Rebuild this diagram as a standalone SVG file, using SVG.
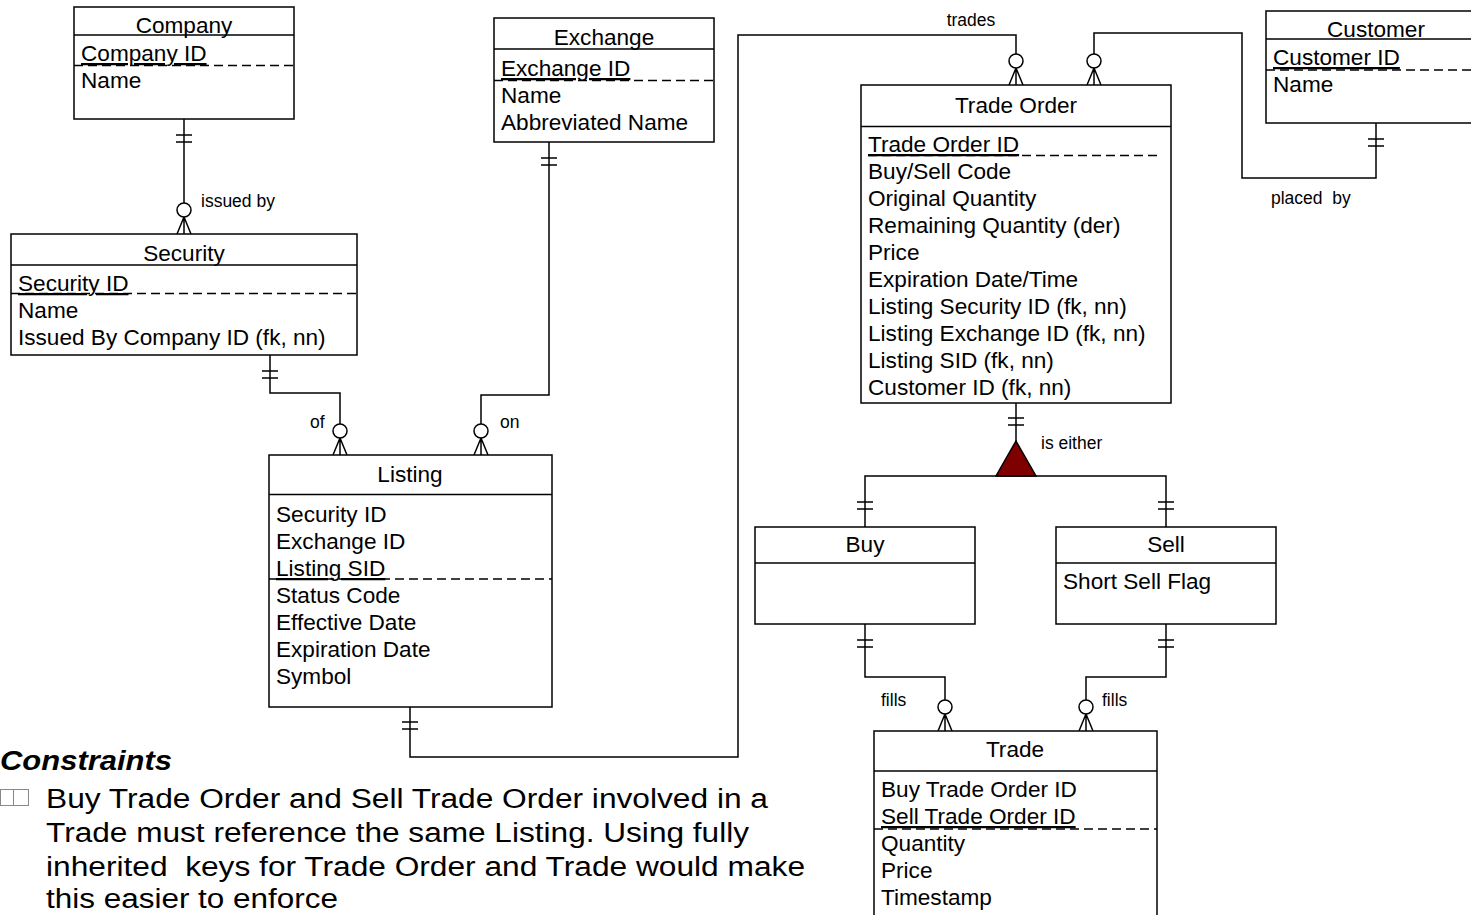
<svg xmlns="http://www.w3.org/2000/svg" xmlns:xlink="http://www.w3.org/1999/xlink" width="1471" height="915" viewBox="0 0 1471 915">
<style>
.box{fill:#fff;stroke:#000;stroke-width:1.5}
.ln{fill:none;stroke:#000;stroke-width:1.5}
.dash{fill:none;stroke:#000;stroke-width:1.5;stroke-dasharray:9 5}
.t{font-family:"Liberation Sans",Arial,sans-serif;font-size:22.6px;fill:#000}
.c{text-anchor:middle}
.k{text-decoration:underline}
.lbl{font-family:"Liberation Sans",Arial,sans-serif;font-size:17.5px;fill:#000}
.note{font-family:"Liberation Sans",Arial,sans-serif;font-size:27px;fill:#000}
</style>
<defs>
<g id="crow"><circle cx="0" cy="-24" r="7" fill="#fff" stroke="#000" stroke-width="1.5"/><path d="M0,-17 L-7,0 M0,-17 L0,0 M0,-17 L7,0" fill="none" stroke="#000" stroke-width="1.5"/></g>
<path id="barsB" d="M-8,16 H8 M-8,23 H8" fill="none" stroke="#000" stroke-width="1.5"/>
<path id="barsT" d="M-8,-25 H8 M-8,-18 H8" fill="none" stroke="#000" stroke-width="1.5"/>
</defs>
<rect width="1471" height="915" fill="#fff"/>
<g id="connectors">
<path class="ln" d="M184,119 V203"/>
<path class="ln" d="M270,355 V393 H340 V424"/>
<path class="ln" d="M549,142 V395 H481 V424"/>
<path class="ln" d="M410,707 V757 H738 V35 H1016 V54"/>
<path class="ln" d="M1376,123 V178 H1242 V33 H1094 V54"/>
<path class="ln" d="M1016,403 V441"/>
<path d="M1016,441 L1036,476 L996,476 Z" fill="#7f0000" stroke="#000" stroke-width="1.5"/>
<path class="ln" d="M865,527 V476 H1166 V527"/>
<path class="ln" d="M865,624 V677 H945 V700"/>
<path class="ln" d="M1166,624 V677 H1086 V700"/>
<use xlink:href="#barsB" x="184" y="119"/>
<use xlink:href="#crow" x="184" y="234"/>
<use xlink:href="#barsB" x="270" y="355"/>
<use xlink:href="#crow" x="340" y="455"/>
<use xlink:href="#barsB" x="549" y="142"/>
<use xlink:href="#crow" x="481" y="455"/>
<use xlink:href="#barsB" x="410" y="706"/>
<use xlink:href="#crow" x="1016" y="85"/>
<use xlink:href="#barsB" x="1376" y="123"/>
<use xlink:href="#crow" x="1094" y="85"/>
<use xlink:href="#barsB" x="1016" y="402"/>
<use xlink:href="#barsT" x="865" y="527"/>
<use xlink:href="#barsT" x="1166" y="527"/>
<use xlink:href="#barsB" x="865" y="624"/>
<use xlink:href="#barsB" x="1166" y="624"/>
<use xlink:href="#crow" x="945" y="731"/>
<use xlink:href="#crow" x="1086" y="731"/>
<text class="lbl" x="201" y="207">issued by</text>
<text class="lbl" x="310" y="428">of</text>
<text class="lbl" x="500" y="428">on</text>
<text class="lbl c" x="971" y="26">trades</text>
<text class="lbl" x="1271" y="204" xml:space="preserve">placed  by</text>
<text class="lbl" x="1041" y="449">is either</text>
<text class="lbl" x="881" y="706">fills</text>
<text class="lbl" x="1102" y="706">fills</text>
</g>
<g id="company">
<rect class="box" x="74" y="7" width="220" height="112"/>
<path class="ln" d="M74,35 H294"/>
<path class="dash" d="M74,65.5 H294"/>
<text class="t c" x="184" y="33">Company</text>
<text class="t k" x="81" y="61">Company ID</text>
<text class="t" x="81" y="88">Name</text>
</g>
<g id="security">
<rect class="box" x="11" y="234" width="346" height="121"/>
<path class="ln" d="M11,265 H357"/>
<path class="dash" d="M11,293.5 H357"/>
<text class="t c" x="184" y="261">Security</text>
<text class="t k" x="18" y="291">Security ID</text>
<text class="t" x="18" y="318">Name</text>
<text class="t" x="18" y="345">Issued By Company ID (fk, nn)</text>
</g>
<g id="exchange">
<rect class="box" x="494" y="18" width="220" height="124"/>
<path class="ln" d="M494,49 H714"/>
<path class="dash" d="M494,80.5 H714"/>
<text class="t c" x="604" y="45">Exchange</text>
<text class="t k" x="501" y="76">Exchange ID</text>
<text class="t" x="501" y="103">Name</text>
<text class="t" x="501" y="130">Abbreviated Name</text>
</g>
<g id="listing">
<rect class="box" x="269" y="455" width="283" height="252"/>
<path class="ln" d="M269,494.5 H552"/>
<path class="dash" d="M269,579 H552"/>
<text class="t c" x="410" y="482">Listing</text>
<text class="t" x="276" y="522">Security ID</text>
<text class="t" x="276" y="549">Exchange ID</text>
<text class="t k" x="276" y="576">Listing SID</text>
<text class="t" x="276" y="603">Status Code</text>
<text class="t" x="276" y="630">Effective Date</text>
<text class="t" x="276" y="657">Expiration Date</text>
<text class="t" x="276" y="684">Symbol</text>
</g>
<g id="trade-order">
<rect class="box" x="861" y="85" width="310" height="318"/>
<path class="ln" d="M861,126.5 H1171"/>
<path class="dash" d="M868,155.5 H1160"/>
<text class="t c" x="1016" y="113">Trade Order</text>
<text class="t k" x="868" y="152">Trade Order ID</text>
<text class="t" x="868" y="179">Buy/Sell Code</text>
<text class="t" x="868" y="206">Original Quantity</text>
<text class="t" x="868" y="233">Remaining Quantity (der)</text>
<text class="t" x="868" y="260">Price</text>
<text class="t" x="868" y="287">Expiration Date/Time</text>
<text class="t" x="868" y="314">Listing Security ID (fk, nn)</text>
<text class="t" x="868" y="341">Listing Exchange ID (fk, nn)</text>
<text class="t" x="868" y="368">Listing SID (fk, nn)</text>
<text class="t" x="868" y="395">Customer ID (fk, nn)</text>
</g>
<g id="customer">
<rect class="box" x="1266" y="11" width="224" height="112"/>
<path class="ln" d="M1266,39 H1490"/>
<path class="dash" d="M1266,70 H1490"/>
<text class="t c" x="1376" y="37">Customer</text>
<text class="t k" x="1273" y="65">Customer ID</text>
<text class="t" x="1273" y="92">Name</text>
</g>
<g id="buy">
<rect class="box" x="755" y="527" width="220" height="97"/>
<path class="ln" d="M755,563 H975"/>
<text class="t c" x="865" y="552">Buy</text>
</g>
<g id="sell">
<rect class="box" x="1056" y="527" width="220" height="97"/>
<path class="ln" d="M1056,563 H1276"/>
<text class="t c" x="1166" y="552">Sell</text>
<text class="t" x="1063" y="589">Short Sell Flag</text>
</g>
<g id="trade">
<rect class="box" x="874" y="731" width="283" height="200"/>
<path class="ln" d="M874,771 H1157"/>
<path class="dash" d="M874,829 H1157"/>
<text class="t c" x="1015" y="757">Trade</text>
<text class="t" x="881" y="797">Buy Trade Order ID</text>
<text class="t k" x="881" y="824">Sell Trade Order ID</text>
<text class="t" x="881" y="851">Quantity</text>
<text class="t" x="881" y="878">Price</text>
<text class="t" x="881" y="905">Timestamp</text>
</g>
<g id="constraints">
<text x="0" y="770" font-family="'Liberation Sans',Arial,sans-serif" font-size="28" font-weight="bold" font-style="italic" textLength="172" lengthAdjust="spacingAndGlyphs">Constraints</text>
<rect x="0.5" y="789.5" width="13" height="16" fill="none" stroke="#888" stroke-width="1"/>
<rect x="13.5" y="789.5" width="15" height="16" fill="none" stroke="#888" stroke-width="1"/>
<text class="note" x="46" y="808" textLength="722" lengthAdjust="spacingAndGlyphs">Buy Trade Order and Sell Trade Order involved in a</text>
<text class="note" x="46" y="842" textLength="703" lengthAdjust="spacingAndGlyphs">Trade must reference the same Listing. Using fully</text>
<text class="note" x="46" y="876" textLength="759" lengthAdjust="spacingAndGlyphs" xml:space="preserve">inherited  keys for Trade Order and Trade would make</text>
<text class="note" x="46" y="908" textLength="292" lengthAdjust="spacingAndGlyphs">this easier to enforce</text>
</g>
</svg>
